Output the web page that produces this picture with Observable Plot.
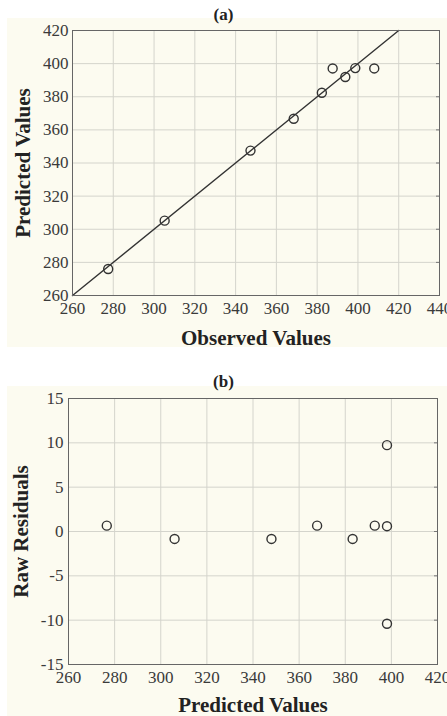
<!DOCTYPE html>
<html>
<head>
<meta charset="utf-8">
<script src="https://cdn.jsdelivr.net/npm/d3@7"></script>
<script src="https://cdn.jsdelivr.net/npm/@observablehq/plot@0.6"></script>
<style>
  html, body { margin: 0; padding: 0; background: #ffffff; width: 447px; height: 716px; overflow: hidden; }
  .title { position: absolute; z-index: 5; width: 447px; left: 0; text-align: center; font-family: "Liberation Serif", serif; font-weight: bold; font-size: 17px; color: #222; line-height: 20px; }
  .panel { position: absolute; left: 7px; background: #fcfbf0; }
  .panel svg { background: #fcfbf0; display: block; font-family: "Liberation Serif", "Times New Roman", serif !important; }
  .panel svg text, .panel svg g { font-family: "Liberation Serif", "Times New Roman", serif !important; font-variant: normal !important; }
</style>
</head>
<body>
<div class="title" id="ta" style="top:5px;">(a)</div>
<div class="panel" id="pa" style="top:18px;"></div>
<div class="title" id="tb" style="top:372px;">(b)</div>
<div class="panel" id="pb" style="top:386px;"></div>
<script>
// Panel (a): observed vs predicted
const observedA  = [277.5, 305.2, 347.3, 368.5, 382.3, 387.6, 393.8, 398.7, 408.0];
const predictedA = [276.0, 305.2, 347.5, 366.7, 382.4, 397.1, 391.9, 397.3, 397.1];
const fitLine = [260, 420];
const xTicksA = [260, 280, 300, 320, 340, 360, 380, 400, 420, 440];
const yTicksA = [260, 280, 300, 320, 340, 360, 380, 400, 420];

// Panel (b): predicted vs raw residuals
const predictedB = [276.6, 306.0, 348.0, 367.8, 383.2, 392.8, 398.1, 398.1, 398.1];
const residualB  = [0.66, -0.84, -0.84, 0.66, -0.84, 0.66, 0.6, 9.74, -10.4];
const xTicksB = [260, 280, 300, 320, 340, 360, 380, 400, 420];
const yTicksB = [-15, -10, -5, 0, 5, 10, 15];

const tableA = observedA.map((o, i) => ({obs: o, pred: predictedA[i]}));
const tableB = predictedB.map((p, i) => ({pred: p, res: residualB[i]}));

const fmt = d => String(d);
const serif = "Liberation Serif, Times New Roman, serif";
const baseStyle = {fontFamily: serif, fontSize: "17px", color: "#333", background: "#fcfbf0", overflow: "visible"};
const tickFont = {fontFamily: serif, fontSize: 17, fill: "#3a3a3a"};
const labelFont = {fontFamily: serif, fontWeight: "bold", fontSize: 21, fill: "#222"};
const gridStyle = {stroke: "#d4d4cc", strokeOpacity: 1};

const chartA = Plot.plot({
  width: 440, height: 329,
  marginLeft: 65, marginRight: 8, marginTop: 12, marginBottom: 52,
  style: baseStyle,
  x: {domain: [260, 440]},
  y: {domain: [260, 420]},
  marks: [
    Plot.gridX(xTicksA, gridStyle),
    Plot.gridY(yTicksA, gridStyle),
    Plot.axisX(xTicksA, {tickSize: 0, tickPadding: 6, tickFormat: fmt, label: null, ...tickFont}),
    Plot.axisY(yTicksA, {tickSize: 0, tickPadding: 4, tickFormat: fmt, label: null, ...tickFont}),
    Plot.axisY(yTicksA, {anchor: "right", tickSize: -4, tickFormat: () => "", label: null, stroke: "#777"}),
    Plot.text(["Observed Values"], {frameAnchor: "bottom", dy: 49, lineAnchor: "bottom", ...labelFont}),
    Plot.text(["Predicted Values"], {frameAnchor: "left", dx: -57, rotate: -90, textAnchor: "middle", lineAnchor: "top", ...labelFont}),
    Plot.line(fitLine, {x: d => d, y: d => d, stroke: "#333", strokeWidth: 1.4}),
    Plot.dot(tableA, {x: "obs", y: "pred", r: 4.5, stroke: "#333", strokeWidth: 1.4, fill: "none"}),
    Plot.frame({stroke: "#666", strokeWidth: 1})
  ]
});
document.getElementById("pa").appendChild(chartA);

const chartB = Plot.plot({
  width: 440, height: 330,
  marginLeft: 61, marginRight: 10, marginTop: 12, marginBottom: 52,
  style: baseStyle,
  x: {domain: [260, 420]},
  y: {domain: [-15, 15]},
  marks: [
    Plot.gridX(xTicksB, gridStyle),
    Plot.gridY(yTicksB, gridStyle),
    Plot.axisX(xTicksB, {tickSize: 0, tickPadding: 6, tickFormat: fmt, label: null, ...tickFont}),
    Plot.axisY(yTicksB, {tickSize: 0, tickPadding: 5, tickFormat: fmt, label: null, ...tickFont}),
    Plot.axisY(yTicksB, {anchor: "right", tickSize: -4, tickFormat: () => "", label: null, stroke: "#777"}),
    Plot.text(["Predicted Values"], {frameAnchor: "bottom", dy: 47, lineAnchor: "bottom", ...labelFont}),
    Plot.text(["Raw Residuals"], {frameAnchor: "left", dx: -55, rotate: -90, textAnchor: "middle", lineAnchor: "top", ...labelFont}),
    Plot.dot(tableB, {x: "pred", y: "res", r: 4.5, stroke: "#333", strokeWidth: 1.4, fill: "none"}),
    Plot.frame({stroke: "#666", strokeWidth: 1})
  ]
});
document.getElementById("pb").appendChild(chartB);
</script>
</body>
</html>
